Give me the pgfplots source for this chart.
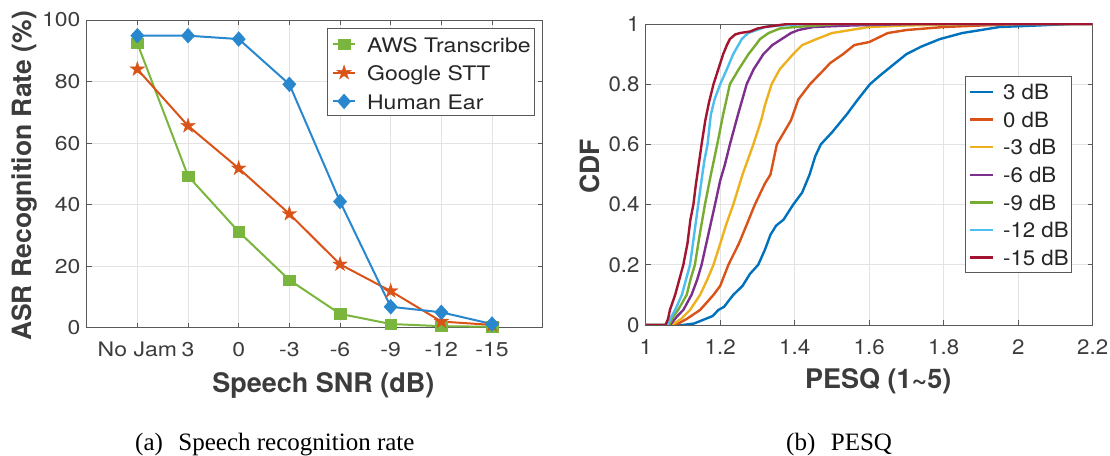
\documentclass[border=0pt]{standalone}
\usepackage{fontspec}
\setmainfont{TeX Gyre Heros}
\newfontfamily\lfont[FakeStretch=1.15]{TeX Gyre Heros}
\newfontfamily\rfont[FakeStretch=1.06]{TeX Gyre Heros}
\newfontfamily\capfont{Liberation Serif}
\usepackage{pgfplots}
\pgfplotsset{compat=1.18}

% MATLAB-style palette
\definecolor{mBlue}{RGB}{0,114,189}
\definecolor{mOrange}{RGB}{217,83,25}
\definecolor{mYellow}{RGB}{237,177,32}
\definecolor{mPurple}{RGB}{126,47,142}
\definecolor{mGreen}{RGB}{119,172,48}
\definecolor{mCyan}{RGB}{77,190,238}
\definecolor{mRed}{RGB}{162,20,47}
\definecolor{awsGreen}{RGB}{122,182,62}
\definecolor{earBlue}{RGB}{40,135,205}
\definecolor{txt}{RGB}{60,60,60}

% filled five-pointed star
\pgfdeclareplotmark{pentastar}{%
  \pgfpathmoveto{\pgfpointpolar{90}{\pgfplotmarksize}}%
  \pgfpathlineto{\pgfpointpolar{126}{0.382\pgfplotmarksize}}%
  \pgfpathlineto{\pgfpointpolar{162}{\pgfplotmarksize}}%
  \pgfpathlineto{\pgfpointpolar{198}{0.382\pgfplotmarksize}}%
  \pgfpathlineto{\pgfpointpolar{234}{\pgfplotmarksize}}%
  \pgfpathlineto{\pgfpointpolar{270}{0.382\pgfplotmarksize}}%
  \pgfpathlineto{\pgfpointpolar{306}{\pgfplotmarksize}}%
  \pgfpathlineto{\pgfpointpolar{342}{0.382\pgfplotmarksize}}%
  \pgfpathlineto{\pgfpointpolar{18}{\pgfplotmarksize}}%
  \pgfpathlineto{\pgfpointpolar{54}{0.382\pgfplotmarksize}}%
  \pgfpathclose
  \pgfusepathqfillstroke}

\pgfplotsset{
  matlab/.style={
    scale only axis,
    axis line style={black!65, line width=0.7bp},
    tick style={black!65, line width=0.7bp},
    tick align=inside, major tick length=5bp,
    grid=major, major grid style={black!11, line width=0.6bp},
    xticklabel style={anchor=north, inner sep=0pt, yshift=-14bp, text=txt},
    yticklabel style={anchor=east, inner sep=0pt, xshift=-6bp, text=txt},
    /pgf/number format/assume math mode=true,
    label style={text=txt},
  },
}

\begin{document}
\begin{tikzpicture}
\path[use as bounding box] (0,0) rectangle (1110bp,456bp);

% ---------------- (a) recognition rate ----------------
\begin{axis}[matlab,
  at={(86.7bp,128.3bp)}, anchor=south west,
  width=456bp, height=307.7bp,
  xmin=-1, xmax=8, ymin=0, ymax=100,
  xtick={0,1,2,3,4,5,6,7},
  xticklabels={No Jam,3,0,-3,-6,-9,-12,-15},
  ytick={0,20,40,60,80,100},
  ticklabel style={font=\lfont\fontsize{20bp}{22bp}\selectfont},
  clip=false,
  xlabel={Speech SNR (dB)},
  ylabel={ASR Recognition Rate (\%)},
  every axis x label/.style={at={(axis description cs:0.519,-0.2106)}, anchor=base,
    font=\bfseries\fontsize{27bp}{30bp}\selectfont, text=txt},
  every axis y label/.style={at={(axis description cs:-0.1211,0.493)}, rotate=90, anchor=base,
    font=\bfseries\fontsize{26.5bp}{30bp}\selectfont, text=txt},
  legend style={
    at={(0.9831,0.975)}, anchor=north east,
    draw=black!65, line width=0.7bp, fill=white,
    inner xsep=4bp, inner ysep=0.65bp,
    column sep=0pt, row sep=0pt,
    font=\lfont\fontsize{20bp}{22bp}\selectfont,
    nodes={inner xsep=0pt, inner ysep=4bp, text height=19.35bp, text depth=1.35bp, text=black!85},
    cells={anchor=base west},
    /tikz/every odd column/.append style={column sep=10.8bp},
  },
  legend image code/.code={%
    \draw[mark repeat=2, mark phase=2, #1]
      plot coordinates {(0bp,8bp) (11.25bp,8bp) (22.5bp,8bp)};},
]
\addplot[color=awsGreen, line width=2bp, mark=square*, mark size=5.2bp,
  mark options={solid, line width=0.4bp, xscale=1.12}]
  coordinates {(0,92.4) (1,49.3) (2,31.2) (3,15.5) (4,4.5) (5,1.2) (6,0.5) (7,0.3)};
\addlegendentry{AWS Transcribe}
\addplot[color=mOrange, line width=2bp, mark=pentastar, mark size=7.6bp,
  mark options={solid, line width=0.4bp}]
  coordinates {(0,84.0) (1,65.6) (2,51.8) (3,37.0) (4,20.6) (5,11.9) (6,2.0) (7,0.9)};
\addlegendentry{Google STT}
\addplot[color=earBlue, line width=2bp, mark=diamond*, mark size=7.4bp,
  mark options={solid, line width=0.4bp, xscale=1.2}]
  coordinates {(0,94.9) (1,94.9) (2,93.8) (3,79.1) (4,41.0) (5,6.8) (6,5.0) (7,1.2)};
\addlegendentry{Human Ear}
\end{axis}

% ---------------- (b) PESQ CDF ----------------
\begin{axis}[matlab,
  at={(645.7bp,131bp)}, anchor=south west,
  width=447bp, height=301bp,
  xmin=1, xmax=2.2, ymin=0, ymax=1,
  xtick={1,1.2,1.4,1.6,1.8,2,2.2},
  ytick={0,0.2,0.4,0.6,0.8,1},
  ticklabel style={font=\rfont\fontsize{21bp}{23bp}\selectfont},
  xlabel={PESQ (1\textasciitilde5)},
  ylabel={CDF},
  every axis x label/.style={at={(axis description cs:0.5204,-0.2126)}, anchor=base,
    font=\bfseries\fontsize{27bp}{30bp}\selectfont, text=txt},
  every axis y label/.style={at={(axis description cs:-0.1031,0.526)}, rotate=90, anchor=base,
    font=\bfseries\fontsize{26.5bp}{30bp}\selectfont, text=txt},
  legend style={
    at={(0.9537,0.8262)}, anchor=north east,
    draw=black!65, line width=0.7bp, fill=white,
    inner xsep=3bp, inner ysep=1.05bp,
    column sep=0pt, row sep=0pt,
    font=\rfont\fontsize{21bp}{23bp}\selectfont,
    nodes={inner xsep=0pt, inner ysep=4bp, text height=17.95bp, text depth=1.65bp, text=black!85},
    cells={anchor=base west},
    /tikz/every odd column/.append style={column sep=9bp},
  },
  legend image code/.code={\draw[#1, line width=2.4bp] (0bp,7.7bp) -- (23.3bp,7.7bp);},
]
\addplot[color=mBlue, line width=2.4bp] coordinates {
 (1,0) (1.10,0) (1.13,0.005) (1.16,0.02) (1.18,0.03) (1.195,0.05) (1.21,0.06)
 (1.235,0.10) (1.26,0.13) (1.28,0.17) (1.302,0.20) (1.32,0.25) (1.335,0.30)
 (1.35,0.33) (1.37,0.35) (1.396,0.40) (1.42,0.44) (1.44,0.50) (1.455,0.56)
 (1.47,0.60) (1.50,0.64) (1.52,0.67) (1.54,0.70) (1.57,0.75) (1.602,0.80)
 (1.63,0.83) (1.66,0.86) (1.70,0.90) (1.74,0.925) (1.79,0.95) (1.85,0.97)
 (1.90,0.98) (1.95,0.99) (2.05,0.995) (2.14,1) (2.2,1)};
\addlegendentry{3 dB}
\addplot[color=mOrange, line width=2.4bp] coordinates {
 (1,0) (1.08,0) (1.11,0.02) (1.146,0.05) (1.182,0.10) (1.20,0.13) (1.222,0.20)
 (1.25,0.27) (1.27,0.33) (1.293,0.40) (1.32,0.47) (1.335,0.50) (1.352,0.60)
 (1.39,0.68) (1.41,0.75) (1.441,0.80) (1.48,0.85) (1.495,0.87) (1.53,0.90)
 (1.56,0.93) (1.60,0.94) (1.65,0.97) (1.70,0.98) (1.80,0.99) (1.90,0.995)
 (2.0,1) (2.2,1)};
\addlegendentry{0 dB}
\addplot[color=mYellow, line width=2.4bp] coordinates {
 (1,0) (1.07,0) (1.095,0.02) (1.119,0.05) (1.146,0.10) (1.165,0.15) (1.182,0.20)
 (1.20,0.27) (1.215,0.33) (1.235,0.40) (1.26,0.50) (1.289,0.60) (1.31,0.68)
 (1.32,0.73) (1.338,0.80) (1.36,0.85) (1.396,0.90) (1.42,0.93) (1.459,0.95)
 (1.50,0.97) (1.55,0.98) (1.60,0.99) (1.70,0.995) (1.87,1) (2.2,1)};
\addlegendentry{-3 dB}
\addplot[color=mPurple, line width=2.4bp] coordinates {
 (1,0) (1.065,0) (1.085,0.03) (1.101,0.05) (1.123,0.10) (1.138,0.15) (1.15,0.20)
 (1.168,0.30) (1.186,0.40) (1.20,0.48) (1.212,0.53) (1.226,0.60) (1.248,0.70)
 (1.271,0.80) (1.29,0.85) (1.316,0.90) (1.34,0.93) (1.365,0.95) (1.39,0.97)
 (1.41,0.98) (1.45,0.99) (1.55,0.995) (1.72,1) (2.2,1)};
\addlegendentry{-6 dB}
\addplot[color=mGreen, line width=2.4bp] coordinates {
 (1,0) (1.062,0) (1.075,0.03) (1.087,0.05) (1.11,0.10) (1.12,0.15) (1.132,0.20)
 (1.145,0.30) (1.159,0.40) (1.175,0.50) (1.192,0.60) (1.208,0.70) (1.226,0.80)
 (1.25,0.85) (1.276,0.90) (1.295,0.93) (1.307,0.95) (1.33,0.97) (1.36,0.985)
 (1.40,0.99) (1.52,1) (2.2,1)};
\addlegendentry{-9 dB}
\addplot[color=mCyan, line width=2.4bp] coordinates {
 (1,0) (1.058,0) (1.07,0.03) (1.079,0.05) (1.097,0.10) (1.108,0.15) (1.119,0.20)
 (1.13,0.30) (1.141,0.40) (1.152,0.50) (1.158,0.55) (1.166,0.60) (1.175,0.70)
 (1.185,0.75) (1.20,0.80) (1.218,0.85) (1.235,0.90) (1.258,0.95) (1.275,0.97)
 (1.298,0.98) (1.32,0.99) (1.36,0.995) (1.43,1) (2.2,1)};
\addlegendentry{-12 dB}
\addplot[color=mRed, line width=2.4bp] coordinates {
 (1,0) (1.053,0) (1.06,0.02) (1.065,0.05) (1.079,0.10) (1.09,0.15) (1.101,0.20)
 (1.112,0.27) (1.12,0.35) (1.128,0.40) (1.135,0.47) (1.142,0.53) (1.15,0.60)
 (1.16,0.68) (1.17,0.74) (1.182,0.80) (1.195,0.85) (1.208,0.90) (1.218,0.93)
 (1.226,0.95) (1.24,0.965) (1.253,0.97) (1.28,0.975) (1.30,0.985) (1.32,0.99)
 (1.38,1) (2.2,1)};
\addlegendentry{-15 dB}
\end{axis}

% sub-figure captions
\node[anchor=base west, inner sep=0pt, font=\capfont\fontsize{25bp}{28bp}\selectfont]
  at (135bp,5.5bp) {(a)\hspace{15.5bp}Speech recognition rate};
\node[anchor=base west, inner sep=0pt, font=\capfont\fontsize{25bp}{28bp}\selectfont]
  at (786bp,5.5bp) {(b)\hspace{15.5bp}PESQ};
\end{tikzpicture}
\end{document}
